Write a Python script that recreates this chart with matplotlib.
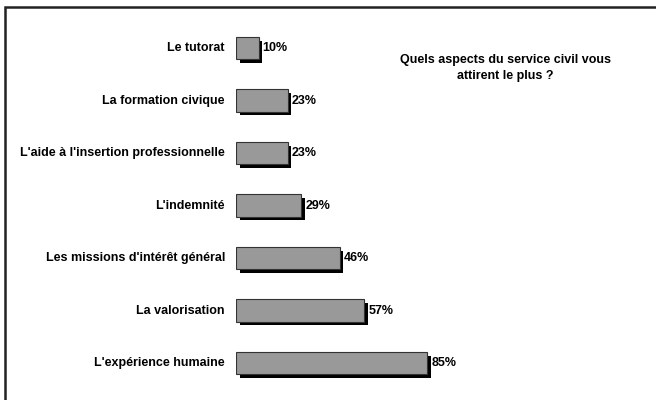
import matplotlib.pyplot as plt
import matplotlib.patheffects as pe
from matplotlib.patches import Rectangle

categories = ["Le tutorat", "La formation civique", "L'aide à l'insertion professionnelle",
              "L'indemnité", "Les missions d'intérêt général", "La valorisation",
              "L'expérience humaine"]
values = [10, 23, 23, 29, 46, 57, 85]
title = "Quels aspects du service civil vous\nattirent le plus ?"

plt.rcParams['font.family'] = ['Liberation Sans', 'DejaVu Sans']

W, H = 656, 400
fig = plt.figure(figsize=(W / 100, H / 100), dpi=100)

# frame around the chart (only left and top visible)
fig.patches.append(Rectangle((5 / W, -0.1), 1.2, (H - 7) / H + 0.1,
                             transform=fig.transFigure, fill=False,
                             edgecolor='#222222', linewidth=1.8))

ax = fig.add_axes([236 / W, (H - 389.25) / H, 225 / W, 367.5 / H])
ax.set_xlim(0, 100)
ax.set_ylim(len(values) - 0.5, -0.5)
ax.axis('off')

pos = list(range(len(values)))
bars = ax.barh(pos, values, height=0.42, color='#999999', edgecolor='#333333', linewidth=0.8)
for b in bars:
    b.set_path_effects([pe.SimplePatchShadow(offset=(2.6, -2.6), shadow_rgbFace='black', alpha=1),
                        pe.Normal()])

for p, v, c in zip(pos, values, categories):
    ax.annotate(f"{v}%", (v, p), xytext=(3, 0), textcoords='offset points',
                ha='left', va='center', fontsize=9, fontweight='bold')
    ax.annotate(c, (0, p), xytext=(-8, 0), textcoords='offset points',
                ha='right', va='center', fontsize=9, fontweight='bold')

fig.text(505 / W, 1 - 68 / H, title, ha='center', va='center', fontsize=9,
         fontweight='bold', linespacing=1.35)

fig.savefig('out.png', dpi=100)
